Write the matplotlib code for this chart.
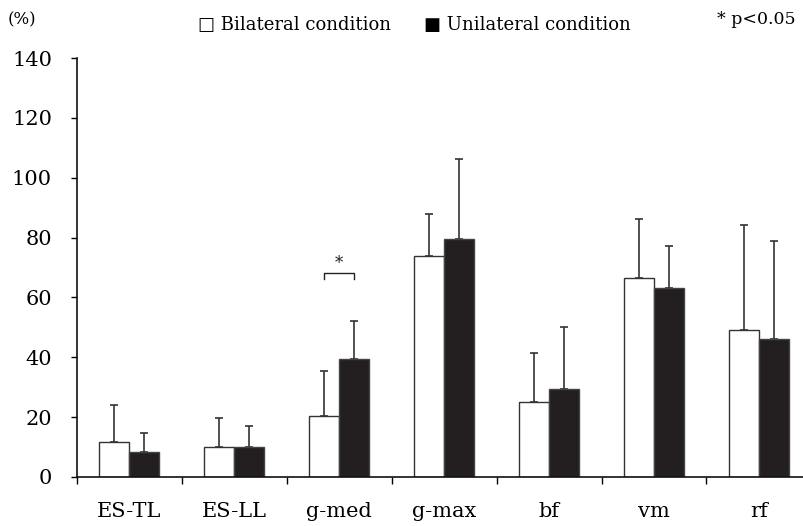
import matplotlib
matplotlib.use("Agg")
import matplotlib.pyplot as plt
import numpy as np

categories = ["ES-TL", "ES-LL", "g-med", "g-max", "bf", "vm", "rf"]
bilateral = [11.7, 9.9, 20.4, 74.0, 25.0, 66.4, 49.0]
bilateral_err = [12.3, 9.9, 15.1, 14.0, 16.5, 19.7, 35.1]
unilateral = [8.4, 10.0, 39.4, 79.6, 29.4, 63.0, 46.2]
unilateral_err = [6.3, 6.9, 12.6, 26.6, 20.6, 14.1, 32.5]
yticks = [0, 20, 40, 60, 80, 100, 120, 140]

plt.rcParams['font.family'] = ['DejaVu Serif', 'DejaVu Sans']

fig = plt.figure(figsize=(8.04, 5.26), dpi=100)
ax = fig.add_axes([77/804, 1-477/526, 1-77/804, (477-58)/526])

x = np.arange(len(categories))
w = 0.286
dark = '#231f20'
ax.bar(x - w/2, bilateral, w, color='white', edgecolor='#333333', linewidth=1.0, zorder=2)
ax.bar(x + w/2, unilateral, w, color=dark, edgecolor='#444444', linewidth=1.0, zorder=2)
ax.errorbar(x - w/2, bilateral, yerr=[np.zeros(len(x)), bilateral_err], fmt='none',
            ecolor='#333333', elinewidth=1.2, capsize=3, capthick=1.2, zorder=1)
ax.errorbar(x + w/2, unilateral, yerr=[np.zeros(len(x)), unilateral_err], fmt='none',
            ecolor='#333333', elinewidth=1.2, capsize=3, capthick=1.2, zorder=1)

# significance bracket for g-med
i = 2
ax.plot([i - w/2, i - w/2, i + w/2, i + w/2], [66, 68.2, 68.2, 66], color='#222222', lw=1.0)
ax.text(i, 68.5, '*', ha='center', va='bottom', fontsize=12, color='#222222')

ax.set_ylim(0, 140)
ax.set_xlim(-0.5, 6.43)
ax.set_yticks(yticks)
ax.set_yticklabels([str(t) for t in yticks], fontsize=15)
ax.tick_params(axis='y', direction='out', length=4, width=1, pad=14)
ax.set_xticks(x)
ax.set_xticklabels(categories, fontsize=15)
ax.tick_params(axis='x', which='major', length=0, pad=18)
ax.set_xticks(np.arange(-0.5, 6.5, 1.0), minor=True)
ax.tick_params(axis='x', which='minor', direction='out', length=5, width=1)
for s in ['top', 'right']:
    ax.spines[s].set_visible(False)
for s in ['left', 'bottom']:
    ax.spines[s].set_linewidth(1.2)
    ax.spines[s].set_color('#111111')

fig.text(8/804, 1-20/526, '(%)', fontsize=12, ha='left', va='center')
fig.text(198/804, 1-25/526, '□ Bilateral condition', fontsize=13, ha='left', va='center')
fig.text(424/804, 1-25/526, '■ Unilateral condition', fontsize=13, ha='left', va='center')
fig.text(796/804, 1-20/526, '* p<0.05', fontsize=12.5, ha='right', va='center')

fig.savefig('out.png', dpi=100)
